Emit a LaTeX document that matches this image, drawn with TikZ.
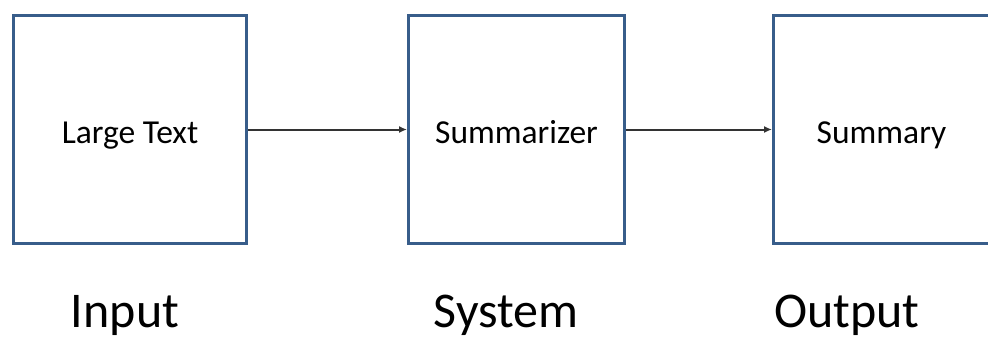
\documentclass[tikz,border=0pt]{standalone}
\usepackage{fontspec}
\setmainfont{Carlito}
\usetikzlibrary{arrows.meta, positioning}
\definecolor{boxblue}{HTML}{385D8A}

\begin{document}
\begin{tikzpicture}[x=1pt, y=-1pt,
		blk/.style={draw=boxblue, line width=3pt, minimum height=228pt, inner sep=0pt,
			text height=28pt, text depth=0pt, font=\fontsize{33.5}{38}\selectfont},
		lbl/.style={anchor=base, font=\fontsize{50}{56}\selectfont},
		arr/.style={-{Latex[length=8pt, width=7pt]}, line width=2pt, black!80}]
			\useasboundingbox (0, 0) rectangle (988, 341);
			\clip (0, 0) rectangle (988, 341);

			\node (large)[blk, minimum width=233pt] at (130, 129.5) {Large Text};
			\node (summ)[blk, minimum width=216pt] at (516.5, 129.5) {Summarizer};
			\node (out)[blk, minimum width=216pt] at (881.5, 129.5) {Summary};

			\node (input)[lbl] at (125, 327) {Input};
			\node (system)[lbl] at (506, 327) {System};
			\node (output)[lbl] at (847, 327) {Output};

			\draw[arr] (large.east) -- (summ.west);
			\draw[arr] (summ.east) -- (out.west);
		\end{tikzpicture}
\end{document}
